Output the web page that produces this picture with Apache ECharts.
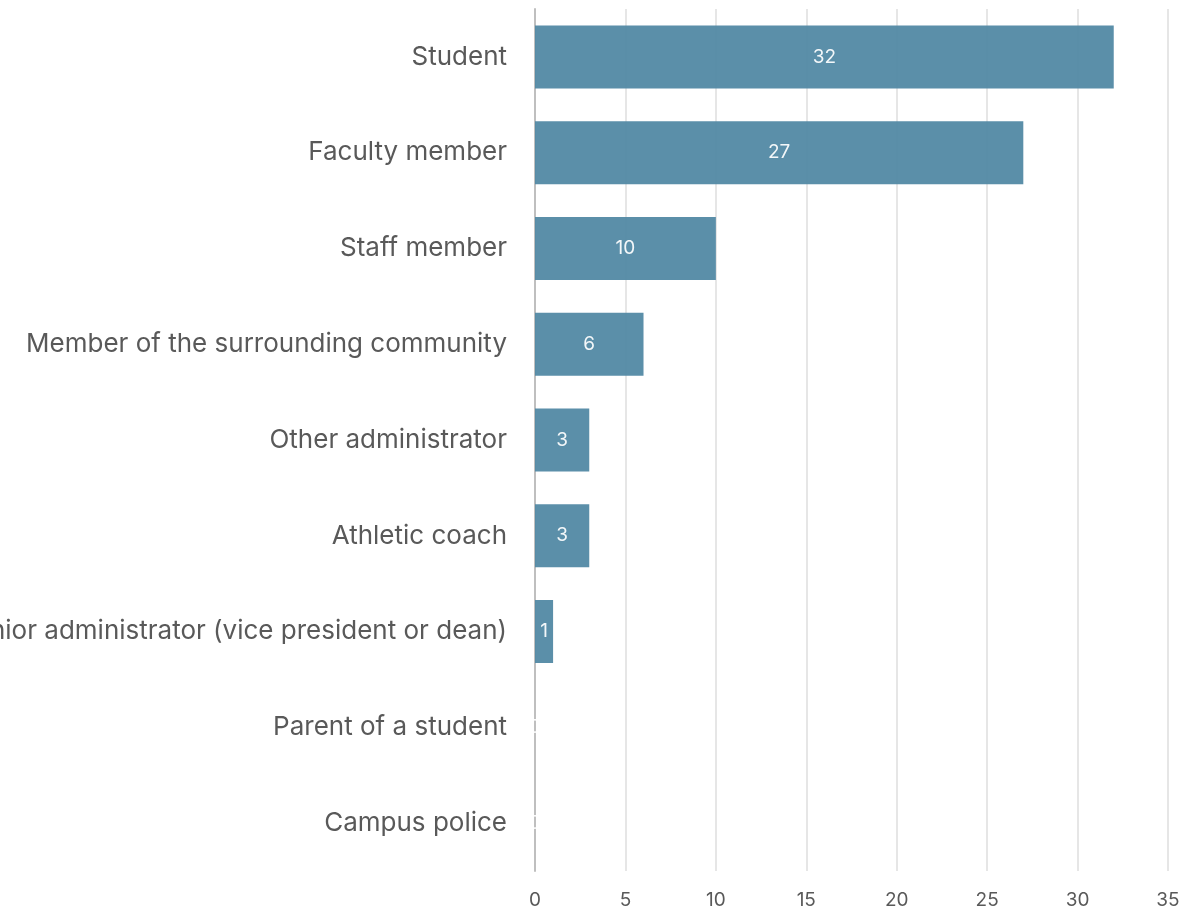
<!DOCTYPE html>
<html>
<head>
<meta charset="utf-8">
<style>
  html, body { margin: 0; padding: 0; background: #ffffff; }
  #chart { width: 1183px; height: 912px; }
</style>
<script src="https://cdn.jsdelivr.net/npm/echarts@6/dist/echarts.min.js"></script>
</head>
<body>
<div id="chart"></div>
<script>
// Respondent roles, listed top to bottom
const categories = [
  'Student',
  'Faculty member',
  'Staff member',
  'Member of the surrounding community',
  'Other administrator',
  'Athletic coach',
  'Senior administrator (vice president or dean)',
  'Parent of a student',
  'Campus police'
];
const counts = [32, 27, 10, 6, 3, 3, 1, 0, 0];
const xTicks = [0, 5, 10, 15, 20, 25, 30, 35];

const chart = echarts.init(document.getElementById('chart'), null, { renderer: 'canvas' });

chart.setOption({
  animation: false,
  backgroundColor: '#ffffff',
  grid: {
    left: 535, right: 15, top: 9, bottom: 41,
    containLabel: false,
    outerBoundsMode: 'none'
  },
  xAxis: {
    type: 'value',
    min: xTicks[0],
    max: xTicks[xTicks.length - 1],
    interval: 5,
    axisLine: { show: false },
    axisTick: { show: false },
    splitLine: { show: true, lineStyle: { color: '#e6e6e6', width: 2 } },
    axisLabel: {
      color: '#595959',
      fontFamily: 'Inter, "Open Sans", sans-serif',
      fontSize: 19,
      margin: 20
    }
  },
  yAxis: {
    type: 'category',
    inverse: true,
    data: categories,
    axisLine: { show: true, lineStyle: { color: '#bfbfbf', width: 2 } },
    axisTick: { show: false },
    axisLabel: {
      color: '#595959',
      fontFamily: 'Inter, "Open Sans", sans-serif',
      fontSize: 26,
      margin: 28
    }
  },
  series: [{
    type: 'bar',
    data: counts,
    barWidth: 63,
    z: 1,
    itemStyle: { color: '#4f87a2', opacity: 0.93 },
    label: {
      show: true,
      position: 'inside',
      color: '#ffffff',
      fontFamily: 'Inter, "Open Sans", sans-serif',
      fontSize: 19
    }
  }]
});
</script>
</body>
</html>
